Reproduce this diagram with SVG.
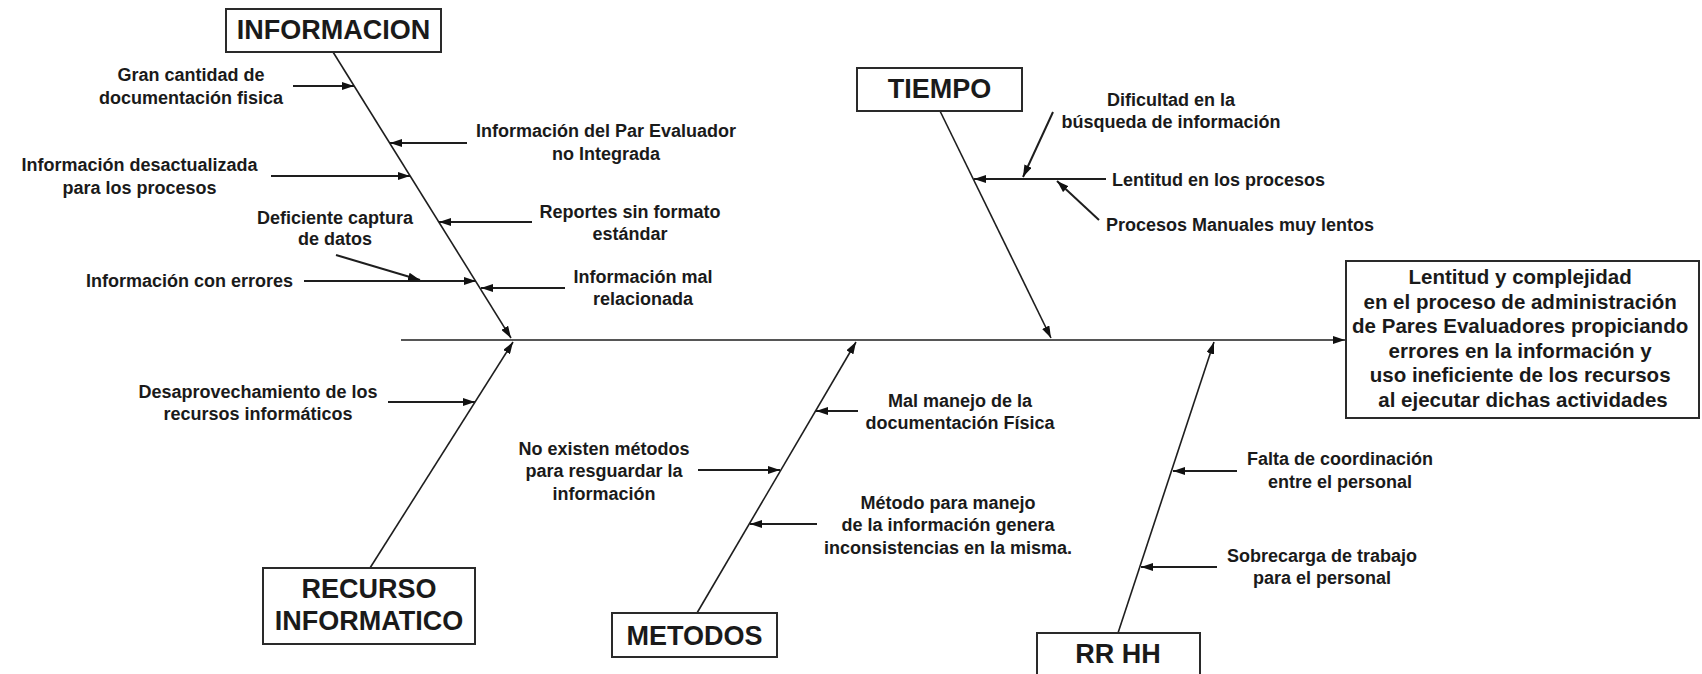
<svg xmlns="http://www.w3.org/2000/svg" width="1702" height="674" viewBox="0 0 1702 674">
<style>
.box{fill:#fff;stroke:#2a2a2a;stroke-width:2}
.t{font-family:"Liberation Sans",Arial,sans-serif;font-weight:bold;fill:#1a1a1a}
.s{font-size:18px}
.m{font-size:20.5px}
.h{font-size:27px}
.c{text-anchor:middle}
.ln{stroke:#1e1e1e;stroke-width:1.6;fill:none}
.ar{stroke:#1e1e1e;stroke-width:2;fill:none;marker-end:url(#ah)}
.br{stroke:#1e1e1e;stroke-width:1.6;fill:none;marker-end:url(#ah)}
</style>
<defs>
<marker id="ah" viewBox="0 0 12 8" refX="12" refY="4" markerWidth="12" markerHeight="8" markerUnits="userSpaceOnUse" orient="auto">
<path d="M0,0 L12,4 L0,8 z" fill="#111"/>
</marker>
</defs>
<rect width="1702" height="674" fill="#fff"/>

<g id="connectors">
<line class="br" x1="401" y1="340" x2="1345" y2="340"/>
<line class="br" x1="333" y1="52" x2="511" y2="338"/>
<line class="br" x1="940" y1="111" x2="1051" y2="338"/>
<line class="br" x1="370" y1="568" x2="513" y2="342"/>
<line class="br" x1="697" y1="613" x2="856" y2="342"/>
<line class="br" x1="1118" y1="633" x2="1214" y2="342"/>
<!-- INFORMACION causes -->
<line class="ar" x1="293" y1="86" x2="354" y2="86"/>
<line class="ar" x1="467" y1="143" x2="390" y2="143"/>
<line class="ar" x1="271" y1="176" x2="410" y2="176"/>
<line class="ar" x1="532" y1="222" x2="439" y2="222"/>
<line class="ar" x1="304" y1="281" x2="476" y2="281"/>
<line class="ar" x1="336" y1="255" x2="420" y2="280"/>
<line class="ar" x1="565" y1="288" x2="481" y2="288"/>
<!-- TIEMPO causes -->
<line class="ar" x1="1106" y1="179" x2="974" y2="179"/>
<line class="ar" x1="1053" y1="112" x2="1023" y2="177"/>
<line class="ar" x1="1099" y1="220" x2="1057" y2="181"/>
<!-- RECURSO causes -->
<line class="ar" x1="388" y1="402" x2="475" y2="402"/>
<!-- METODOS causes -->
<line class="ar" x1="858" y1="411" x2="816" y2="411"/>
<line class="ar" x1="698" y1="470" x2="780" y2="470"/>
<line class="ar" x1="817" y1="524" x2="750" y2="524"/>
<!-- RR HH causes -->
<line class="ar" x1="1237" y1="471" x2="1173" y2="471"/>
<line class="ar" x1="1217" y1="567" x2="1141" y2="567"/>
</g>

<g id="informacion">
<rect class="box" x="226" y="9" width="215" height="43"/>
<text class="t h c" x="333.5" y="39">INFORMACION</text>
</g>
<g id="tiempo">
<rect class="box" x="857" y="68" width="165" height="43"/>
<text class="t h c" x="939.5" y="98">TIEMPO</text>
</g>
<g id="recurso">
<rect class="box" x="263" y="568" width="212" height="76"/>
<text class="t h c" x="369" y="598">RECURSO</text>
<text class="t h c" x="369" y="630">INFORMATICO</text>
</g>
<g id="metodos">
<rect class="box" x="612" y="613" width="165" height="44"/>
<text class="t h c" x="694.5" y="645">METODOS</text>
</g>
<g id="rrhh">
<rect class="box" x="1037" y="633" width="163" height="60"/>
<text class="t h c" x="1118" y="663">RR HH</text>
</g>
<g id="efecto">
<rect class="box" x="1346" y="261" width="353" height="157"/>
<text class="t m c">
<tspan x="1523" y="284">Lentitud y complejidad</tspan>
<tspan x="1523" y="308.5">en el proceso de administración</tspan>
<tspan x="1523" y="333">de Pares Evaluadores propiciando</tspan>
<tspan x="1523" y="357.5">errores en la información y</tspan>
<tspan x="1523" y="382">uso ineficiente de los recursos</tspan>
<tspan x="1523" y="406.5">al ejecutar dichas actividades</tspan>
</text>
</g>

<g id="causas">
<text class="t s c"><tspan x="191" y="80.5">Gran cantidad de</tspan><tspan x="191" y="103.5">documentación fisica</tspan></text>
<text class="t s c"><tspan x="606" y="136.5">Información del Par Evaluador</tspan><tspan x="606" y="159.5">no Integrada</tspan></text>
<text class="t s c"><tspan x="139.5" y="170.5">Información desactualizada</tspan><tspan x="139.5" y="193.5">para los procesos</tspan></text>
<text class="t s c"><tspan x="630" y="217.5">Reportes sin formato</tspan><tspan x="630" y="239.5">estándar</tspan></text>
<text class="t s c"><tspan x="335" y="223.5">Deficiente captura</tspan><tspan x="335" y="245">de datos</tspan></text>
<text class="t s c" x="189.5" y="286.5">Información con errores</text>
<text class="t s c"><tspan x="643" y="282.5">Información mal</tspan><tspan x="643" y="305">relacionada</tspan></text>
<text class="t s c"><tspan x="1171" y="105.5">Dificultad en la</tspan><tspan x="1171" y="127.5">búsqueda de información</tspan></text>
<text class="t s" x="1112" y="185.5">Lentitud en los procesos</text>
<text class="t s" x="1106" y="230.5">Procesos Manuales muy lentos</text>
<text class="t s c"><tspan x="258" y="397.5">Desaprovechamiento de los</tspan><tspan x="258" y="419.5">recursos informáticos</tspan></text>
<text class="t s c"><tspan x="604" y="454.5">No existen métodos</tspan><tspan x="604" y="477">para resguardar la</tspan><tspan x="604" y="499.5">información</tspan></text>
<text class="t s c"><tspan x="960" y="406.5">Mal manejo de la</tspan><tspan x="960" y="428.5">documentación Física</tspan></text>
<text class="t s c"><tspan x="948" y="508.5">Método para manejo</tspan><tspan x="948" y="531">de la información genera</tspan><tspan x="948" y="553.5">inconsistencias en la misma.</tspan></text>
<text class="t s c"><tspan x="1340" y="464.5">Falta de coordinación</tspan><tspan x="1340" y="487.5">entre el personal</tspan></text>
<text class="t s c"><tspan x="1322" y="561.5">Sobrecarga de trabajo</tspan><tspan x="1322" y="583.5">para el personal</tspan></text>
</g>
</svg>
